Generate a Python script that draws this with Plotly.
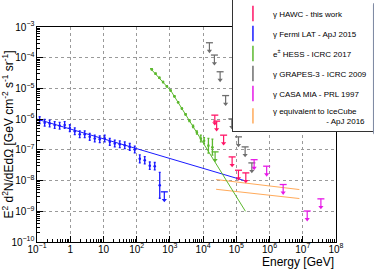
import plotly.graph_objects as go

# ---------------- data ----------------
# Fermi LAT IGRB (GeV, GeV cm^-2 s^-1 sr^-1), error half-width in decades
fermi_E = [0.12, 0.17, 0.24, 0.34, 0.48, 0.68, 0.97, 1.37, 1.93, 2.73, 3.86, 5.47, 7.73,
           10.9, 15.5, 21.9, 31.0, 43.8, 61.9, 87.5, 124, 175, 248, 350, 495]
fermi_F = [9.3e-7, 7.6e-7, 7.2e-7, 6.4e-7, 6.05e-7, 6.4e-7, 5.1e-7, 4.06e-7, 3.24e-7, 3.24e-7,
           2.65e-7, 2.35e-7, 2.23e-7, 2.35e-7, 1.82e-7, 1.61e-7, 1.53e-7, 1.42e-7, 1.25e-7,
           1.03e-7, 5.1e-8, 4.6e-8, 3.05e-8, 2.94e-8, 7.0e-9]
fermi_dec = [0.11, 0.11, 0.11, 0.11, 0.11, 0.11, 0.11, 0.11, 0.11, 0.11, 0.11, 0.11, 0.11,
             0.11, 0.11, 0.11, 0.11, 0.11, 0.11, 0.11, 0.13, 0.12, 0.12, 0.12, 0.42]
fermi_ul_E = [680]
fermi_ul_F = [4.3e-9]
fermi_fit_E = [0.1, 1.86e5]
fermi_fit_F = [1.0e-6, 9.8e-9]

# H.E.S.S. electrons
hess_E = [285, 371, 483, 624, 812, 1050, 1370, 1770, 2300, 2970, 3870, 5000, 6500,
          8530, 10700, 14450, 19060]
hess_F = [4.18e-5, 3.03e-5, 2.21e-5, 1.61e-5, 1.17e-5, 8.56e-6, 5.53e-6, 3.53e-6, 2.23e-6,
          1.43e-6, 8.99e-7, 5.78e-7, 3.66e-7, 2.35e-7, 1.99e-7, 1.37e-7, 1.22e-7]
hess_dec = [0.02, 0.02, 0.02, 0.02, 0.02, 0.02, 0.02, 0.02, 0.02, 0.02, 0.03, 0.04, 0.05,
            0.11, 0.10, 0.24, 0.26]
hess_ul_E = [22960]
hess_ul_F = [8.6e-8]
hess_fit_E = [254, 1087, 1.88e5]
hess_fit_F = [4.6e-5, 8.2e-6, 1.0e-9]

# GRAPES-3 upper limits
grapes_E = [1.55e4, 2.19e4, 3.25e4, 4.76e4, 7.3e4, 1.16e5, 1.84e5, 2.93e5]
grapes_F = [3.07e-4, 1.22e-4, 3.49e-5, 5.85e-6, 1.02e-6, 2.65e-7, 1.25e-7, 3.76e-8]

# HAWC upper limits (this work)
hawc_E = [2.25e4, 2.55e4, 4.14e4, 7.47e4, 1.16e5, 1.93e5]
hawc_F = [1.35e-6, 8.6e-7, 3.01e-7, 5.9e-8, 2.17e-8, 1.78e-8]

# CASA-MIA upper limits
casa_E = [3.43e5, 8.18e5, 2.57e6, 1.36e7, 3.51e7]
casa_F = [4.79e-8, 2.94e-8, 7.43e-9, 1.02e-9, 2.54e-9]

# IceCube-equivalent band edges
ice_E = [2.46e4, 7.9e6]
ice_hi = [1.08e-8, 5.1e-9]
ice_lo = [5.2e-9, 2.6e-9]

ARROW = 1.85  # upper-limit arrow length factor

C_HAWC = "#ff1466"
C_FERMI = "#1a1aff"
C_HESS = "#5cb82e"
C_GRAPES = "#6e6e6e"
C_CASA = "#e619e6"
C_ICE = "#ffaa5a"

fig = go.Figure()


def points(E, F, dec, color):
    hi = [f * (10 ** d - 1) for f, d in zip(F, dec)]
    lo = [f * (1 - 10 ** (-d)) for f, d in zip(F, dec)]
    fig.add_trace(go.Scatter(
        x=E, y=F, mode="markers", showlegend=False, hoverinfo="skip",
        marker=dict(symbol="circle", size=2.6, color=color),
        error_y=dict(type="data", symmetric=False, array=hi, arrayminus=lo,
                     color=color, thickness=1.3, width=1)))


def limits(E, F, color):
    bottoms = [f / ARROW for f in F]
    fig.add_trace(go.Scatter(
        x=E, y=F, mode="markers", showlegend=False, hoverinfo="skip",
        marker=dict(symbol="line-ew", size=5, line=dict(width=1.3, color=color)),
        error_y=dict(type="data", symmetric=False, array=[0] * len(F),
                     arrayminus=[f - b for f, b in zip(F, bottoms)],
                     color=color, thickness=1.2, width=0)))
    fig.add_trace(go.Scatter(
        x=E, y=bottoms, mode="markers", showlegend=False, hoverinfo="skip",
        marker=dict(symbol="triangle-down", size=4.5, color=color)))


def line(E, F, color, width=1):
    fig.add_trace(go.Scatter(x=E, y=F, mode="lines", showlegend=False, hoverinfo="skip",
                             line=dict(color=color, width=width)))


# IceCube band edges
line(ice_E, ice_hi, C_ICE)
line(ice_E, ice_lo, C_ICE)
# Fermi
line(fermi_fit_E, fermi_fit_F, C_FERMI)
points(fermi_E, fermi_F, fermi_dec, C_FERMI)
limits(fermi_ul_E, fermi_ul_F, C_FERMI)
# HESS
line(hess_fit_E, hess_fit_F, C_HESS)
points(hess_E, hess_F, hess_dec, C_HESS)
limits(hess_ul_E, hess_ul_F, C_HESS)
# GRAPES, HAWC, CASA
limits(grapes_E, grapes_F, C_GRAPES)
limits(hawc_E, hawc_F, C_HAWC)
limits(casa_E, casa_F, C_CASA)

# legend entries
legend_items = [
    ("\u03b3 HAWC - this work", C_HAWC),
    ("\u03b3 Fermi LAT - ApJ 2015", C_FERMI),
    ("e<sup>\u00b1</sup> HESS - ICRC 2017", C_HESS),
    ("\u03b3 GRAPES-3 - ICRC 2009", C_GRAPES),
    ("\u03b3 CASA MIA - PRL 1997", C_CASA),
    ("\u03b3 equivalent to IceCube<br>" + "\u00a0" * 24 + "- ApJ 2016", C_ICE),
]
for i, (name, color) in enumerate(legend_items):
    fig.add_trace(go.Scatter(
        x=[None], y=[None], mode="markers", name=name, legendgroup=str(i),
        marker=dict(symbol="line-ns", size=11, line=dict(width=1.5, color=color))))

FONT = "Liberation Sans, Arial, sans-serif"
axis_common = dict(
    type="log", dtick=1, exponentformat="power",
    ticks="inside", ticklen=6, tickwidth=1, tickcolor="black",
    minor=dict(ticks="inside", ticklen=3, tickcolor="black", dtick="D1", showgrid=False),
    showgrid=True, gridcolor="#9a9a9a", griddash="dot", gridwidth=1,
    showline=True, linecolor="black", linewidth=1, mirror=True,
    zeroline=False, tickfont=dict(family=FONT, size=8, color="black"),
)

fig.update_layout(
    width=374, height=269,
    margin=dict(l=37, r=38, t=27, b=27, autoexpand=False),
    paper_bgcolor="white", plot_bgcolor="white",
    font=dict(family=FONT, color="black"),
    xaxis=dict(range=[-1, 8], ticklabelstandoff=-2, **axis_common),
    yaxis=dict(range=[-10, -3],
               title=dict(text="E<sup>2</sup> d<sup>2</sup>N/dEd\u03a9 [GeV cm<sup>-2</sup> s<sup>-1</sup> sr<sup>-1</sup>]",
                          font=dict(family=FONT, size=12), standoff=3),
               **axis_common),
    legend=dict(x=0.652, xanchor="left", y=1.135, yanchor="top",
                bgcolor="white", bordercolor="#333333", borderwidth=1,
                font=dict(family=FONT, size=8, color="black"),
                traceorder="grouped", tracegroupgap=1),
    annotations=[dict(text="Energy [GeV]", xref="paper", yref="paper", x=1, y=-0.091,
                      xanchor="right", yanchor="middle", showarrow=False,
                      font=dict(family=FONT, size=12))],
    showlegend=True,
)

fig.write_html("out.html", config={"displayModeBar": False},
               post_script="document.body.style.margin='0';document.body.style.overflow='hidden';")
